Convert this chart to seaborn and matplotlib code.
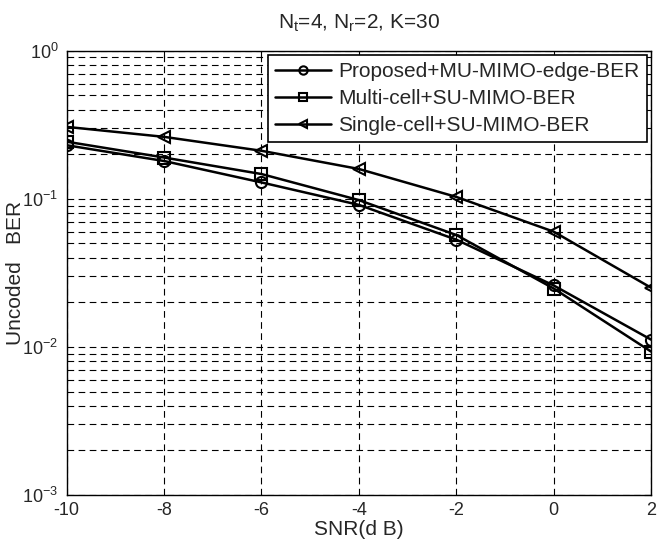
import matplotlib
matplotlib.use("Agg")
import matplotlib.pyplot as plt
import matplotlib.ticker as mticker
import seaborn as sns
import pandas as pd

snr = [-10, -8, -6, -4, -2, 0, 2]
proposed_mu = [0.230, 0.180, 0.129, 0.091, 0.053, 0.026, 0.0112]
multi_cell_su = [0.243, 0.190, 0.147, 0.098, 0.057, 0.0248, 0.0093]
single_cell_su = [0.306, 0.262, 0.211, 0.159, 0.103, 0.060, 0.0251]

series = [
    ("Proposed+MU-MIMO-edge-BER", proposed_mu, "o"),
    ("Multi-cell+SU-MIMO-BER", multi_cell_su, "s"),
    ("Single-cell+SU-MIMO-BER", single_cell_su, "<"),
]

sns.set_style("white")
plt.rcParams["font.family"] = ["Liberation Sans", "DejaVu Sans"]
plt.rcParams["mathtext.fontset"] = "custom"
plt.rcParams["mathtext.rm"] = "Liberation Sans"
plt.rcParams["mathtext.it"] = "Liberation Sans"

fig = plt.figure(figsize=(6.59, 5.44), dpi=100)
ax = fig.add_axes([0.1012, 0.09, 0.8868, 0.8168])

for name, vals, mk in series:
    df = pd.DataFrame({"snr": snr, "ber": vals})
    sns.lineplot(data=df, x="snr", y="ber", ax=ax, color="black", linewidth=1.8,
                 marker=mk, markersize=8, markerfacecolor="none",
                 markeredgecolor="black", markeredgewidth=1.5, label=name)

ax.set_yscale("log")
ax.set_xlim(-10, 2)
ax.set_ylim(1e-3, 1e0)
ax.set_xticks(snr)
ax.set_xticklabels([str(v) for v in snr])
ax.yaxis.set_major_locator(mticker.LogLocator(base=10, numticks=10))
ax.yaxis.set_minor_locator(mticker.LogLocator(base=10, subs=range(2, 10), numticks=10))
ax.yaxis.set_minor_formatter(mticker.NullFormatter())

ax.grid(True, which="major", color="black", linestyle=(0, (6, 4)), linewidth=0.8)
ax.grid(True, which="minor", axis="y", color="black", linestyle=(0, (6, 4)), linewidth=0.8)
ax.tick_params(which="both", direction="in", top=True, right=True, labelsize=13, color="black")
ax.tick_params(which="major", length=5)
ax.tick_params(which="minor", length=3)
ax.tick_params(axis="y", which="major", pad=6)
ax.tick_params(axis="x", which="major", pad=5)
for sp in ax.spines.values():
    sp.set_color("black")
    sp.set_linewidth(1.0)

ax.set_xlabel("SNR(d B)", fontsize=15, labelpad=1)
ax.set_ylabel("Uncoded   BER", fontsize=15)
ax.yaxis.set_label_coords(-0.071, 0.5)
ax.set_title(r"N$_t$=4, N$_r$=2, K=30", fontsize=15, pad=16)

leg = ax.legend(loc="upper right", fontsize=15, frameon=True, fancybox=False,
                edgecolor="black", framealpha=1, handlelength=2.7,
                handletextpad=0.35, borderaxespad=0.2, labelspacing=0.38,
                borderpad=0.35)
leg.get_frame().set_linewidth(1.2)
for h in leg.legend_handles:
    h.set_markersize(6)

fig.savefig("out.png", dpi=100)
